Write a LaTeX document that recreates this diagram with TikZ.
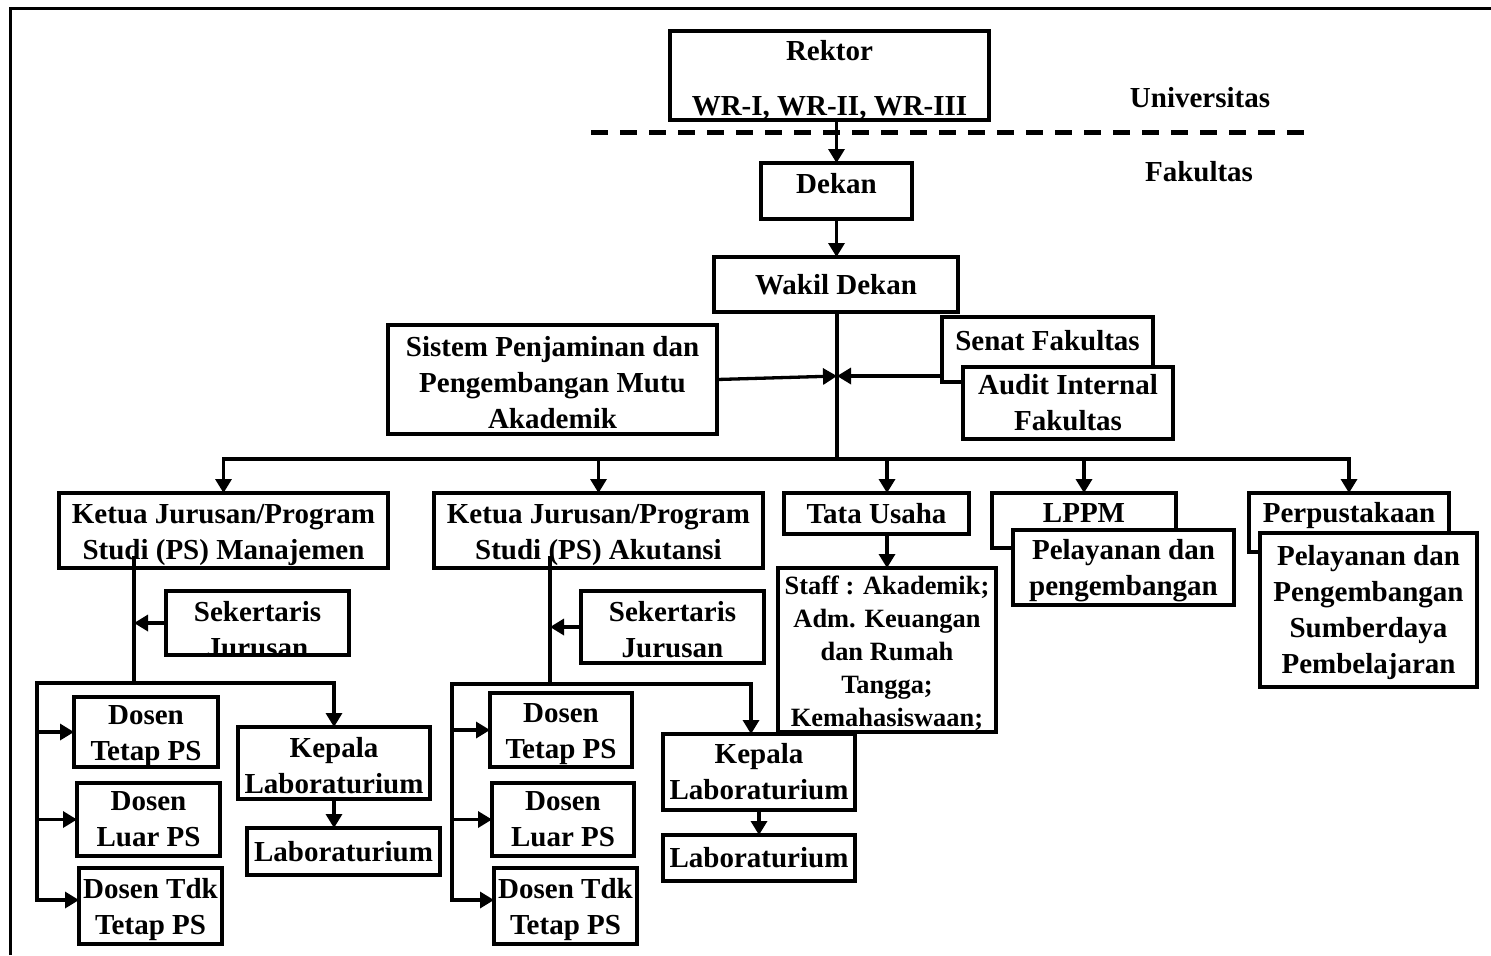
\documentclass[tikz,border=0pt]{standalone}
\usepackage{fontspec}
\setmainfont{Liberation Serif}
\usetikzlibrary{arrows.meta}
\newcommand{\sinkby}[1]{\rule{0pt}{#1}}

\begin{document}
\begin{tikzpicture}[x=0.5pt, y=-0.5pt,
  every node/.style={font=\bfseries\fontsize{14.5}{18}\selectfont, inner sep=0pt, outer sep=0pt},
  box/.style={draw, fill=white, line width=1.65pt, align=center},
  arr/.style={line width=1.65pt, line cap=rect, -{Triangle[length=7pt,width=8pt]}},
  ln/.style={line width=1.65pt, line cap=rect},
  small/.style={font=\bfseries\fontsize{13.2}{16.5}\selectfont}]
\useasboundingbox (0,0) rectangle (1491,955);
\draw[line width=1.5pt] (10,955) -- (10,8) -- (1491,8);

\node[box, minimum width=159.5pt, minimum height=44.5pt] (rektor) at (829.5,75.5) {\sinkby{14.5pt}Rektor\\[9.5pt]WR-I, WR-II, WR-III};
\node (univ) at (1200,98) {Universitas};
\node (fak) at (1199,172) {Fakultas};
\coordinate (divL) at (591,132);
\coordinate (divR) at (1306,132);
\draw[line width=2.5pt, dash pattern=on 8.5pt off 6pt] (divL) -- (divR);

\node[box, minimum width=75.5pt, minimum height=28pt, text depth=8pt] (dekan) at (836.5,191) {Dekan};
\node[box, minimum width=122pt, minimum height=27.5pt] (wakil) at (836,284.5) {Wakil Dekan};
\node[box, minimum width=164.5pt, minimum height=54.5pt] (spm) at (552.5,379.5) {\sinkby{13pt}Sistem Penjaminan dan\\Pengembangan Mutu\\Akademik};
\node[box, minimum width=105.5pt, minimum height=32.5pt, text depth=9.5pt] (senat) at (1047.5,349.5) {Senat Fakultas};
\node[box, minimum width=105pt, minimum height=36pt] (audit) at (1068,403) {Audit Internal\\Fakultas};

\node[box, minimum width=164.5pt, minimum height=37.5pt] (ketuaM) at (223.5,530.5) {\sinkby{14pt}Ketua Jurusan/Program\\Studi (PS) Manajemen};
\node[box, minimum width=164.5pt, minimum height=37.5pt] (ketuaA) at (598.5,530.5) {\sinkby{14pt}Ketua Jurusan/Program\\Studi (PS) Akutansi};
\node[box, minimum width=92.5pt, minimum height=20.5pt] (tata) at (876.5,513.5) {Tata Usaha};
\node[box, small, minimum width=109pt, minimum height=82pt] (staff) at (887,650) {\sinkby{12.5pt}Staff : Akademik;\\Adm. Keuangan\\dan Rumah\\Tangga;\\Kemahasiswaan;};
\node[box, minimum width=92pt, minimum height=27.5pt, text depth=7.5pt] (lppm) at (1084,520.5) {LPPM};
\node[box, minimum width=110.5pt, minimum height=37.5pt] (pelM) at (1123.5,567.5) {\sinkby{13pt}Pelayanan dan\\pengembangan};
\node[box, minimum width=100pt, minimum height=29.5pt, text depth=10.5pt] (perpus) at (1349,522.5) {Perpustakaan};
\node[box, minimum width=108.5pt, minimum height=77pt] (pelP) at (1368.5,610) {\sinkby{12.5pt}Pelayanan dan\\Pengembangan\\Sumberdaya\\Pembelajaran};

\node[box, minimum width=91.5pt, minimum height=32pt] (sekM) at (257.5,623) {};
\begin{scope}
\clip (sekM.south west) rectangle (sekM.north east);
\node[align=center] (sekMt) at (257.5,630) {Sekertaris\\Jurusan};
\end{scope}
\node[box, minimum width=72pt, minimum height=35pt] (dtM) at (146,732) {\sinkby{14pt}Dosen\\Tetap PS};
\node[box, minimum width=71.5pt, minimum height=36.5pt] (dlM) at (148.5,819.5) {Dosen\\Luar PS};
\node[box, minimum width=71.5pt, minimum height=38pt] (ddM) at (150.5,906) {\sinkby{14pt}Dosen Tdk\\Tetap PS};
\node[box, minimum width=96pt, minimum height=36pt] (klM) at (334,763) {\sinkby{13pt}Kepala\\Laboraturium};
\node[box, minimum width=96.5pt, minimum height=23.5pt] (labM) at (343.5,851.5) {Laboraturium};

\node[box, minimum width=91.5pt, minimum height=36pt] (sekA) at (672.5,627) {\sinkby{13pt}Sekertaris\\Jurusan};
\node[box, minimum width=71pt, minimum height=37pt] (dtA) at (561,730) {\sinkby{14pt}Dosen\\Tetap PS};
\node[box, minimum width=71pt, minimum height=36.5pt] (dlA) at (563,819.5) {Dosen\\Luar PS};
\node[box, minimum width=71.5pt, minimum height=38pt] (ddA) at (565.5,906) {\sinkby{14pt}Dosen Tdk\\Tetap PS};
\node[box, minimum width=96pt, minimum height=38pt] (klA) at (759,772) {Kepala\\Laboraturium};
\node[box, minimum width=96pt, minimum height=23pt] (labA) at (759,858) {Laboraturium};

\draw[arr] (dekan.north |- rektor.south) -- (dekan.north);
\draw[arr] (dekan.south) -- (dekan.south |- wakil.north);
\coordinate (meet) at (837,376);
\coordinate (bus) at (837,459);
\draw[ln] (wakil.south -| bus) -- (bus);
\draw[arr] (spm.east) -- (meet);
\draw[arr] (senat.west |- meet) -- (meet);
\draw[arr] (bus) -| (ketuaM.north);
\draw[arr] (bus) -| (perpus.north);
\draw[arr] (ketuaA.north |- bus) -- (ketuaA.north);
\draw[arr] (staff.north |- bus) -- (staff.north |- tata.north);
\draw[arr] (lppm.north |- bus) -- (lppm.north);
\draw[arr] (tata.south -| staff.north) -- (staff.north);

\coordinate (topM) at (134,558);
\coordinate (jM) at (134,683);
\coordinate (lM) at (37,683);
\draw[ln] (topM) -- (jM);
\draw[arr] (sekM.west) -- (sekM.west -| jM);
\draw[arr] (lM) -| (klM.north);
\draw[arr] (lM) |- ([yshift=3pt]ddM.west);
\draw[arr] (lM |- dtM.west) -- (dtM.west);
\draw[arr] (lM |- dlM.west) -- (dlM.west);
\draw[arr] (klM.south) -- (klM.south |- labM.north);

\coordinate (topA) at (550,558);
\coordinate (jA) at (550,684);
\coordinate (lA) at (452,684);
\draw[ln] (topA) -- (jA);
\draw[arr] (sekA.west) -- (sekA.west -| jA);
\draw[arr] (lA) -| ([xshift=-4pt]klA.north);
\draw[arr] (lA) |- ([yshift=3pt]ddA.west);
\draw[arr] (lA |- dtA.west) -- (dtA.west);
\draw[arr] (lA |- dlA.west) -- (dlA.west);
\draw[arr] (klA.south) -- (klA.south |- labA.north);
\end{tikzpicture}
\end{document}
